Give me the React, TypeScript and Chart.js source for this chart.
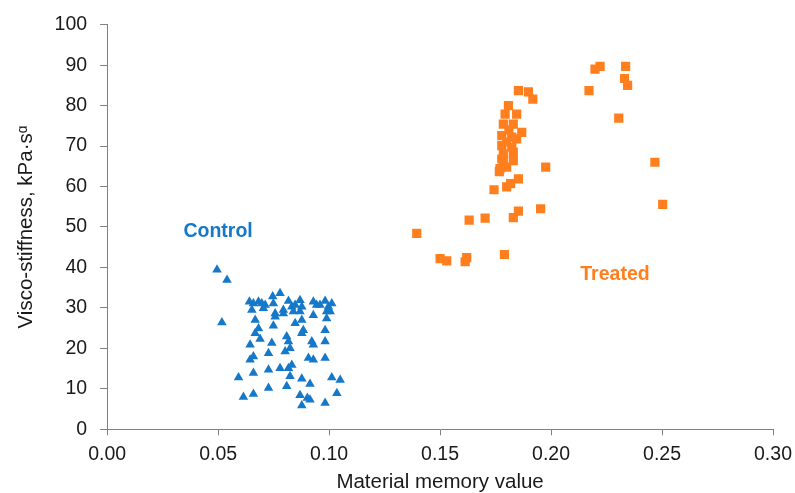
import React, { useEffect, useRef } from "react";
import { Chart, registerables } from "chart.js";

Chart.register(...registerables);

const controlX = [0.0495, 0.054, 0.0517, 0.0641, 0.0659, 0.0682, 0.0697, 0.0712, 0.0746, 0.0749, 0.0779, 0.0794, 0.0817, 0.0832, 0.0847, 0.0869, 0.0877, 0.0929, 0.0944, 0.0959, 0.0982, 0.0997, 0.1012, 0.0652, 0.0704, 0.0757, 0.0794, 0.0839, 0.0869, 0.0929, 0.0989, 0.1005, 0.0667, 0.0757, 0.0847, 0.0877, 0.0989, 0.0682, 0.0749, 0.0884, 0.0982, 0.0667, 0.0689, 0.0809, 0.0877, 0.0922, 0.0982, 0.0644, 0.0742, 0.0817, 0.0824, 0.0929, 0.0727, 0.0802, 0.0659, 0.0644, 0.0907, 0.0929, 0.0982, 0.0779, 0.0817, 0.0832, 0.0727, 0.0659, 0.0592, 0.0824, 0.0877, 0.1012, 0.105, 0.0727, 0.0809, 0.0914, 0.1035, 0.0614, 0.0659, 0.0869, 0.0902, 0.0914, 0.0982, 0.0877];
const controlY = [39.4, 36.9, 26.4, 31.5, 31.1, 31.5, 31.1, 30.7, 32.8, 31.1, 33.6, 29.5, 31.7, 30.3, 30.7, 31.9, 30.3, 31.5, 30.7, 30.7, 31.7, 30.3, 31.1, 29.5, 29.9, 28.6, 28.6, 29.1, 29.1, 28.2, 29.1, 29.1, 27.0, 27.8, 26.2, 27.0, 27.4, 24.9, 25.6, 24.5, 24.5, 23.7, 22.3, 22.9, 23.7, 21.7, 21.7, 20.9, 21.3, 21.7, 20.0, 20.9, 18.8, 19.2, 18.0, 17.2, 17.6, 17.2, 17.6, 15.1, 15.1, 15.9, 14.7, 13.9, 12.8, 13.1, 12.5, 12.8, 12.2, 10.2, 10.6, 11.2, 8.9, 8.0, 8.7, 8.4, 7.7, 7.3, 6.5, 5.9];

const treatedX = [0.1395, 0.15, 0.153, 0.1613, 0.162, 0.1631, 0.1703, 0.1743, 0.1767, 0.179, 0.177, 0.18, 0.18, 0.1818, 0.1853, 0.183, 0.1853, 0.1953, 0.1976, 0.1785, 0.183, 0.1778, 0.1785, 0.183, 0.1778, 0.1823, 0.1778, 0.1823, 0.1845, 0.1868, 0.1785, 0.183, 0.1793, 0.1845, 0.1808, 0.1853, 0.1898, 0.1918, 0.2171, 0.2198, 0.2221, 0.2336, 0.2331, 0.2345, 0.2305, 0.2468, 0.2503, 0.18, 0.181];
const treatedY = [48.4, 42.2, 41.6, 41.4, 42.4, 51.7, 52.2, 59.2, 63.7, 43.2, 64.4, 64.8, 59.9, 60.7, 61.9, 52.3, 53.9, 54.5, 64.8, 66.4, 66.4, 66.8, 68.1, 68.5, 70.1, 69.7, 72.6, 72.2, 71.8, 73.4, 75.4, 75.4, 77.9, 77.9, 80.0, 83.7, 83.4, 81.6, 83.7, 89.0, 89.7, 89.7, 86.7, 85.0, 76.9, 66.0, 55.6, 71.0, 74.0];

const groupLabels = ["Control", "Treated"];
const labelX = [0.05, 0.2288];
const labelY = [48.8, 38.2];

const BLUE = "#1578c8";
const ORANGE = "#ff7f1e";
const labelColors = [BLUE, ORANGE];

const FONT = "'Liberation Sans', Arial, sans-serif";
const TEXT = "#1a1a1a";
const AXIS = "#808080";

const labelPlugin = {
  id: "groupLabels",
  afterDatasetsDraw(chart: any) {
    const { ctx, scales } = chart;
    ctx.save();
    ctx.font = `bold 19.5px ${FONT}`;
    ctx.textAlign = "center";
    ctx.textBaseline = "middle";
    groupLabels.forEach((t, i) => {
      ctx.fillStyle = labelColors[i];
      ctx.fillText(t, scales.x.getPixelForValue(labelX[i]), scales.y.getPixelForValue(labelY[i]));
    });
    ctx.restore();
  },
};

export default function App() {
  const ref = useRef<HTMLCanvasElement>(null);
  useEffect(() => {
    if (!ref.current) return;
    const chart = new Chart(ref.current, {
      type: "scatter",
      data: {
        datasets: [
          {
            label: "Control",
            data: controlX.map((x, i) => ({ x, y: controlY[i] })),
            pointStyle: "triangle",
            pointRadius: 5.5,
            backgroundColor: BLUE,
            borderColor: BLUE,
            borderWidth: 0,
          },
          {
            label: "Treated",
            data: treatedX.map((x, i) => ({ x, y: treatedY[i] })),
            pointStyle: "rect",
            pointRadius: 6.5,
            backgroundColor: ORANGE,
            borderColor: ORANGE,
            borderWidth: 0,
          },
        ],
      },
      options: {
        animation: false,
        responsive: false,
        layout: { padding: { left: 10, right: 22, top: 24, bottom: 3 } },
        plugins: { legend: { display: false }, tooltip: { enabled: false } },
        scales: {
          x: {
            type: "linear",
            min: 0,
            max: 0.3,
            afterFit: (s: any) => {
              s.paddingRight = 0;
            },
            ticks: {
              stepSize: 0.05,
              color: TEXT,
              font: { family: FONT, size: 19.5 },
              padding: 8,
              callback: (v: any) => Number(v).toFixed(2),
            },
            grid: { drawOnChartArea: false, tickLength: 6, color: AXIS },
            border: { color: AXIS, width: 1 },
            title: {
              display: true,
              text: "Material memory value",
              color: TEXT,
              font: { family: FONT, size: 20.5, lineHeight: 0.7 },
              padding: { top: 1, bottom: 0 },
            },
          },
          y: {
            type: "linear",
            min: 0,
            max: 100,
            ticks: {
              stepSize: 10,
              color: TEXT,
              font: { family: FONT, size: 19.5 },
              padding: 13,
            },
            grid: { drawOnChartArea: false, tickLength: 7, color: AXIS },
            border: { color: AXIS, width: 1 },
            title: {
              display: true,
              text: "Visco-stiffness, kPa·sᵅ",
              color: TEXT,
              font: { family: FONT, size: 20.5 },
              padding: { top: 4, bottom: 3 },
            },
          },
        },
      },
      plugins: [labelPlugin],
    });
    return () => chart.destroy();
  }, []);
  return (
    <div style={{ position: "fixed", left: 0, top: 0, width: 795, height: 493, background: "#fff" }}>
      <canvas ref={ref} width={795} height={493} style={{ display: "block" }} />
    </div>
  );
}
